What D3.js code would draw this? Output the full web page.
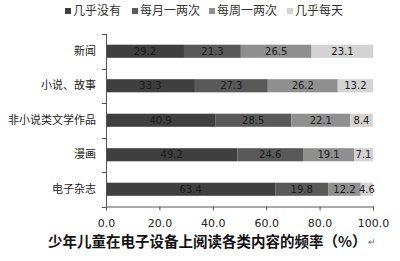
<!DOCTYPE html>
<html><head><meta charset="utf-8">
<script src="https://cdn.jsdelivr.net/npm/d3@7"></script>
<style>body{margin:0;background:#fff}svg{display:block}</style>
</head><body>
<svg id="c" width="400" height="261"></svg>
<script>
const categories = ["新闻", "小说、故事", "非小说类文学作品", "漫画", "电子杂志"];
const seriesNames = ["几乎没有", "每月一两次", "每周一两次", "几乎每天"];
const s1 = [29.2, 33.3, 40.9, 49.2, 63.4];
const s2 = [21.3, 27.3, 28.5, 24.6, 19.8];
const s3 = [26.5, 26.2, 22.1, 19.1, 12.2];
const s4 = [23.1, 13.2, 8.4, 7.1, 4.6];
const xTicks = [0, 20, 40, 60, 80, 100];
const title = "少年儿童在电子设备上阅读各类内容的频率（%）";
const colors = ["#3f3f3f", "#595959", "#8f8f8f", "#d3d3d3"];

const svg = d3.select("#c");
const font = "'Noto Sans CJK SC', sans-serif";
const x = d3.scaleLinear().domain([0, 100]).range([106, 373]);
const y = d3.scaleBand().domain(categories).range([34, 206.5]).paddingInner(0.62).paddingOuter(0.31);

const rows = categories.map((c, i) => ({cat: c, vals: [s1[i], s2[i], s3[i], s4[i]]}));
const stack = d3.stack().keys([0,1,2,3]).value((d, k) => d.vals[k]);
const layers = stack(rows);

const g = svg.append("g");
layers.forEach((layer, k) => {
  layer.forEach(seg => {
    g.append("rect")
      .attr("x", x(seg[0])).attr("y", y(seg.data.cat))
      .attr("width", x(seg[1]) - x(seg[0])).attr("height", y.bandwidth())
      .attr("fill", colors[k]);
    g.append("text")
      .attr("x", (x(seg[0]) + x(seg[1])) / 2)
      .attr("y", y(seg.data.cat) + y.bandwidth() / 2 + 0.5)
      .attr("text-anchor", "middle").attr("dominant-baseline", "middle")
      .attr("font-family", "'DejaVu Sans', sans-serif").attr("font-size", 10)
      .attr("fill", "#1a1a1a")
      .text(d3.format(".1f")(seg.data.vals[k]));
  });
});

// y axis
const yAxis = d3.axisLeft(y).tickSize(0).tickPadding(10);
const yg = svg.append("g").attr("transform", "translate(106,0)").call(yAxis);
yg.select(".domain").attr("stroke", "#555").attr("d", "M0.5,34V206.5");
yg.selectAll("text").attr("font-family", font).attr("font-size", 11).attr("fill", "#222");
const bounds = categories.map(c => y(c) - y.step() * y.paddingInner() / 2).concat([206.5]);
bounds.forEach(b => {
  svg.append("line").attr("x1", 102).attr("x2", 106.5).attr("y1", Math.round(b) + 0.5).attr("y2", Math.round(b) + 0.5).attr("stroke", "#555");
});

// x axis
const xAxis = d3.axisBottom(x).tickValues(xTicks).tickFormat(d3.format(".1f")).tickSize(4).tickSizeOuter(0).tickPadding(9);
const xg = svg.append("g").attr("transform", "translate(0,206.5)").call(xAxis);
xg.select(".domain").attr("stroke", "#555");
xg.selectAll(".tick line").attr("stroke", "#555");
xg.selectAll("text").attr("font-family", "'DejaVu Sans', sans-serif").attr("font-size", 11).attr("fill", "#222");

// legend
const legX = [65, 132, 209, 287];
seriesNames.forEach((n, k) => {
  svg.append("rect").attr("x", legX[k]).attr("y", 8).attr("width", 6).attr("height", 6).attr("fill", colors[k]);
  svg.append("text").attr("x", legX[k] + 8).attr("y", 11.5).attr("dominant-baseline", "middle")
    .attr("font-family", font).attr("font-size", 12).attr("fill", "#333").text(n);
});

// title
const t = svg.append("text").attr("x", 48).attr("y", 243).attr("dominant-baseline", "middle")
  .attr("font-family", font).attr("font-size", 14.5).attr("font-weight", "bold").attr("fill", "#111");
t.append("tspan").text(title);
t.append("tspan").attr("dx", 2).attr("font-size", 9).attr("font-weight", "normal").attr("fill", "#666").text("↵");
</script>
</body></html>
